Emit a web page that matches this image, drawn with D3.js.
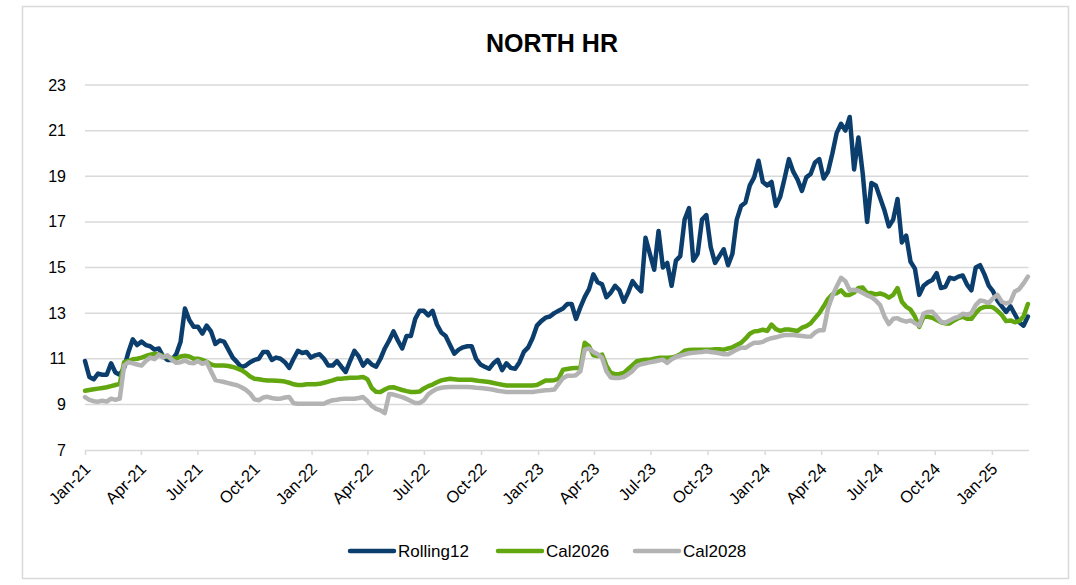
<!DOCTYPE html>
<html>
<head>
<meta charset="utf-8">
<script src="https://cdn.jsdelivr.net/npm/d3@7"></script>
<style>
  body { margin: 0; background: #ffffff; }
  .axis-tag { font-family: "Liberation Sans", Arial, sans-serif; font-size: 16px; fill: #000; }
  .x-tag { font-size: 16.5px; }
  .title { font-family: "Liberation Sans", Arial, sans-serif; font-size: 25px; font-weight: bold; fill: #000; }
  .legend-label { font-family: "Liberation Sans", Arial, sans-serif; font-size: 17px; fill: #000; }
</style>
</head>
<body>
<div id="chart"></div>
<script>
// weekly points, starting 1 Jan 2021
let start_date = new Date(2021, 0, 1);
let n_points = 218;

let rolling12 = [
  10.9, 10.2, 10.1, 10.35, 10.3, 10.3, 10.8, 10.4, 10.3, 10.6,
  11.3, 11.85, 11.6, 11.75, 11.6, 11.55, 11.4, 11.45, 11.1, 10.95,
  10.95, 11.2, 11.75, 13.2, 12.7, 12.4, 12.4, 12.1, 12.45, 12.2,
  11.65, 11.8, 11.75, 11.4, 11.05, 10.85, 10.63, 10.7, 10.85, 10.95,
  11.0, 11.3, 11.3, 10.95, 11.05, 11.0, 10.85, 10.6, 11.0, 11.35,
  11.25, 11.3, 11.05, 11.15, 11.2, 11.0, 10.7, 10.7, 10.9, 10.65,
  10.42, 10.9, 11.35, 11.1, 10.7, 10.93, 10.75, 10.65, 11.0, 11.45,
  11.8, 12.2, 11.8, 11.45, 12.0, 12.0, 12.75, 13.1, 13.1, 12.9,
  13.1, 12.5, 12.15, 12.0, 11.6, 11.22, 11.4, 11.5, 11.55, 11.55,
  11.0, 10.75, 10.65, 10.56, 10.8, 10.95, 10.5, 10.8, 10.6, 10.56,
  10.85, 11.3, 11.5, 11.9, 12.45, 12.65, 12.8, 12.85, 13.0, 13.1,
  13.2, 13.4, 13.4, 12.75, 13.25, 13.7, 14.05, 14.7, 14.35, 14.26,
  13.7, 13.9, 14.2, 14.0, 13.5, 13.9, 14.4, 14.15, 13.95, 16.3,
  15.6, 14.9, 16.6, 15.0, 15.2, 14.2, 15.3, 15.5, 17.1, 17.6,
  15.3, 15.6, 17.1, 17.3, 15.9, 15.2, 15.5, 15.8, 15.1, 15.6,
  17.1, 17.7, 17.85, 18.6, 18.95, 19.68, 18.75, 18.6, 18.75, 17.7,
  18.1, 18.9, 19.75, 19.2, 18.85, 18.36, 18.95, 19.1, 19.6, 19.75,
  18.9, 19.2, 20.0, 20.9, 21.3, 21.0, 21.6, 19.3, 20.7, 19.1,
  17.0, 18.7, 18.6, 18.05, 17.5, 16.8, 17.1, 18.0, 16.1, 16.4,
  15.25, 14.95, 13.8, 14.2, 14.35, 14.45, 14.75, 14.1, 14.15, 14.55,
  14.5, 14.6, 14.65, 14.25, 14.0, 15.0, 15.1, 14.7, 14.2, 13.95,
  13.55, 13.3, 13.05, 13.3, 12.95, 12.6, 12.45, 12.85
];

let cal2026 = [
  9.6, 9.63, 9.66, 9.69, 9.72, 9.75, 9.8, 9.85, 9.9, 10.85,
  10.9, 10.98, 11.0, 11.05, 11.12, 11.18, 11.22, 11.18, 11.12, 11.07,
  11.02, 11.0, 11.1, 11.13, 11.1, 11.0, 11.0, 10.95, 10.87, 10.75,
  10.7, 10.7, 10.7, 10.68, 10.64, 10.58, 10.5, 10.38, 10.22, 10.12,
  10.1, 10.07, 10.05, 10.05, 10.04, 10.02, 10.0, 9.95, 9.88, 9.85,
  9.85, 9.88, 9.88, 9.88, 9.9, 9.95, 10.0, 10.05, 10.12, 10.12,
  10.15, 10.17, 10.17, 10.18, 10.2, 10.1, 9.72, 9.55, 9.54, 9.65,
  9.74, 9.75, 9.69, 9.63, 9.58, 9.54, 9.54, 9.56, 9.7, 9.8,
  9.87, 9.97, 10.05, 10.09, 10.12, 10.1, 10.08, 10.08, 10.08, 10.08,
  10.05, 10.02, 10.0, 9.98, 9.94, 9.9, 9.86, 9.83, 9.83, 9.83,
  9.83, 9.83, 9.83, 9.83, 9.85, 9.95, 10.05, 10.05, 10.06, 10.12,
  10.52, 10.55, 10.58, 10.6, 10.58, 11.7, 11.55, 11.15, 11.12, 11.18,
  10.7, 10.38, 10.32, 10.33, 10.38, 10.55, 10.72, 10.89, 10.93, 10.96,
  10.96, 11.0, 11.04, 11.04, 11.04, 11.05, 11.1, 11.2, 11.35, 11.38,
  11.4, 11.4, 11.4, 11.4, 11.4, 11.42, 11.42, 11.4, 11.45, 11.5,
  11.6, 11.7, 11.88, 12.1, 12.2, 12.22, 12.27, 12.22, 12.5, 12.3,
  12.22, 12.28, 12.28, 12.25, 12.22, 12.36, 12.43, 12.55, 12.78, 13.0,
  13.3, 13.62, 13.82, 13.88, 14.0, 13.8, 13.8, 13.9, 14.1, 14.12,
  13.88, 13.88, 13.82, 13.86, 13.8, 13.68, 13.8, 14.1, 13.5, 13.28,
  13.15, 12.85, 12.4, 12.84, 12.84, 12.8, 12.7, 12.6, 12.55, 12.55,
  12.68, 12.78, 12.84, 12.75, 12.75, 13.0, 13.2, 13.27, 13.29, 13.25,
  13.1, 12.92, 12.65, 12.68, 12.6, 12.65, 12.85, 13.4
];

let cal2028 = [
  9.32, 9.2, 9.14, 9.12, 9.16, 9.12, 9.25, 9.2, 9.25, 10.7,
  10.85, 10.8, 10.75, 10.7, 10.9, 11.05, 10.98, 11.18, 11.05, 11.15,
  10.95, 10.82, 10.85, 10.92, 10.82, 10.8, 10.9, 10.78, 10.85, 10.45,
  10.07, 10.02, 9.98, 9.93, 9.88, 9.84, 9.75, 9.64, 9.48, 9.22,
  9.18, 9.3, 9.33, 9.28, 9.25, 9.25, 9.3, 9.32, 9.05, 9.03,
  9.03, 9.03, 9.03, 9.03, 9.03, 9.03, 9.12, 9.18, 9.2, 9.24,
  9.25, 9.25, 9.25, 9.28, 9.32, 9.15, 8.93, 8.8, 8.74, 8.62,
  9.45, 9.43, 9.37, 9.32, 9.24, 9.15, 9.06, 9.06, 9.18, 9.44,
  9.58, 9.68, 9.73, 9.75, 9.76, 9.76, 9.76, 9.76, 9.76, 9.75,
  9.73, 9.72, 9.7, 9.67, 9.64, 9.6, 9.57, 9.54, 9.54, 9.54,
  9.54, 9.54, 9.54, 9.54, 9.57, 9.6, 9.62, 9.63, 9.65, 9.9,
  10.15, 10.25, 10.25, 10.28, 10.45, 11.4, 11.45, 11.3, 11.2, 11.04,
  10.45, 10.18, 10.16, 10.16, 10.2, 10.32, 10.46, 10.68, 10.76, 10.8,
  10.85, 10.88, 10.92, 10.96, 10.82, 10.98, 11.08, 11.14, 11.19, 11.24,
  11.26, 11.28, 11.3, 11.33, 11.3, 11.27, 11.24, 11.2, 11.2, 11.3,
  11.4, 11.48, 11.48, 11.6, 11.7, 11.7, 11.74, 11.84, 11.9, 11.94,
  11.99, 12.04, 12.04, 12.04, 12.02, 12.0, 11.98, 11.97, 12.15, 12.25,
  12.25, 13.2, 13.75, 14.17, 14.55, 14.4, 14.0, 14.02, 13.98, 13.88,
  13.78, 13.7, 13.55, 13.35, 12.85, 12.52, 12.75, 12.78, 12.68, 12.63,
  12.68, 12.56, 12.45, 12.98, 13.05, 13.06, 12.85, 12.62, 12.58, 12.68,
  12.78, 12.84, 12.97, 12.93, 13.0, 13.35, 13.55, 13.52, 13.45, 13.65,
  13.8, 13.5, 13.42, 13.5, 13.95, 14.05, 14.3, 14.6
];

let series_names = ["Rolling12", "Cal2026", "Cal2028"];
let series_colors = ["#0b3e6c", "#62a70f", "#b3b3b3"];
let y_ticks = [7, 9, 11, 13, 15, 17, 19, 21, 23];
let chart_title = "NORTH HR";

function renderChart(){
  let total_width = 1076;
  let total_height = 585;
  let plot = {left: 85, right: 1028.5, top: 85, bottom: 450};

  let dates = d3.range(n_points).map(i => d3.timeDay.offset(start_date, 7*i));
  let all_series = [rolling12, cal2026, cal2028];

  var svg = d3.select("#chart").append("svg")
    .attr("width", total_width)
    .attr("height", total_height);

  // outer frame
  svg.append("rect")
    .attr("x", 22.5).attr("y", 6.5)
    .attr("width", 1046).attr("height", 572)
    .attr("fill", "#fff")
    .attr("stroke", "#d9d9d9")
    .attr("stroke-width", 1.5);

  var x = d3.scaleTime()
    .domain([new Date(2021, 0, 1), new Date(2025, 2, 1)])
    .range([plot.left, plot.right]);
  var y = d3.scaleLinear()
    .domain([7, 23])
    .range([plot.bottom, plot.top]);

  // horizontal grid
  svg.append("g").selectAll("line").data(y_ticks.filter(d => d > 7)).enter()
    .append("line")
    .attr("x1", plot.left).attr("x2", plot.right)
    .attr("y1", d => y(d)).attr("y2", d => y(d))
    .attr("stroke", "#d9d9d9")
    .attr("stroke-width", 1.5);

  svg.append("g").selectAll("text").data(y_ticks).enter()
    .append("text")
    .attr("class", "axis-tag")
    .attr("x", 66)
    .attr("y", d => y(d))
    .attr("dy", "0.35em")
    .attr("text-anchor", "end")
    .text(d => d);

  // x axis
  let x_ticks = d3.timeMonth.every(3).range(new Date(2021, 0, 1), new Date(2025, 0, 2));
  let x_axis = svg.append("g")
    .attr("transform", "translate(0," + plot.bottom + ")")
    .call(d3.axisBottom(x).tickValues(x_ticks).tickSize(5).tickSizeOuter(0).tickFormat(d3.timeFormat("%b-%y")));
  x_axis.select(".domain").attr("stroke", "#d9d9d9").attr("stroke-width", 1.5);
  x_axis.selectAll(".tick line").attr("stroke", "#d9d9d9").attr("stroke-width", 1.5);
  x_axis.selectAll(".tick text")
    .attr("class", "axis-tag x-tag")
    .attr("font-family", null).attr("font-size", null)
    .attr("text-anchor", "end")
    .attr("dy", null)
    .attr("y", 0)
    .attr("transform", "translate(6,20) rotate(-45)");

  // series
  let line = d3.line()
    .x((d, i) => x(dates[i]))
    .y(d => y(d))
    .curve(d3.curveLinear);

  svg.append("g").selectAll("path").data(all_series).enter()
    .append("path")
    .attr("d", d => line(d))
    .attr("fill", "none")
    .attr("stroke", (d, i) => series_colors[i])
    .attr("stroke-width", 4.5)
    .attr("stroke-linejoin", "round")
    .attr("stroke-linecap", "round");

  // title
  svg.append("text")
    .attr("class", "title")
    .attr("x", 552)
    .attr("y", 52)
    .attr("text-anchor", "middle")
    .text(chart_title);

  // legend
  let legend_x = [350, 498, 635];
  let legend_y = 551;
  let legend = svg.append("g").selectAll("g").data(series_names).enter().append("g");
  legend.append("line")
    .attr("x1", (d, i) => legend_x[i]).attr("x2", (d, i) => legend_x[i] + 44)
    .attr("y1", legend_y).attr("y2", legend_y)
    .attr("stroke", (d, i) => series_colors[i])
    .attr("stroke-width", 4.5)
    .attr("stroke-linecap", "round");
  legend.append("text")
    .attr("class", "legend-label")
    .attr("x", (d, i) => legend_x[i] + 48)
    .attr("y", legend_y)
    .attr("dy", "0.35em")
    .text(d => d);
}

renderChart();
</script>
</body>
</html>
